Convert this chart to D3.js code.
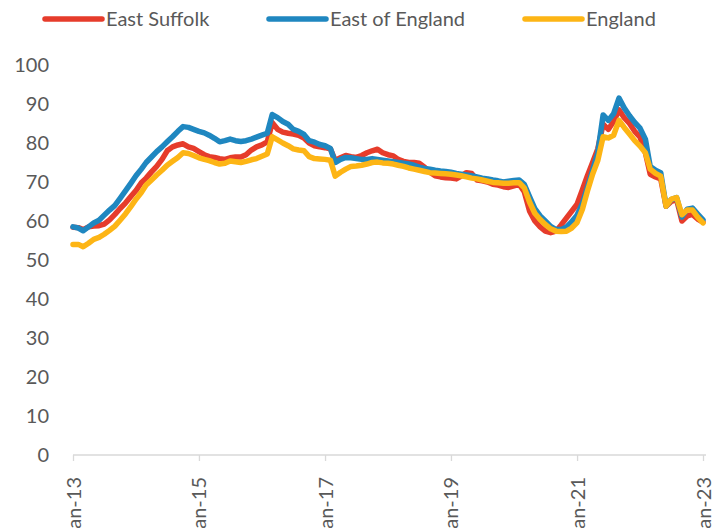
<!DOCTYPE html>
<html>
<head>
<meta charset="utf-8">
<script src="https://cdn.jsdelivr.net/npm/d3@7"></script>
<style>
  body { margin: 0; background: #fff; }
  svg { display: block; }
  text { font-family: Lato, "Open Sans", sans-serif; fill: #595959; }
</style>
</head>
<body>
<svg id="chart" width="724" height="528"></svg>
<script>
// monthly, Jan-13 .. Jan-23
const startMonth = new Date(2013, 0, 1)

const eastSuffolk = [
  58.4, 58.3, 57.8, 58.5, 58.7, 58.8, 59.2, 60.3, 61.7, 63.2, 64.6, 66.2,
  67.8, 69.8, 71.0, 72.6, 74.0, 75.8, 78.0, 79.0, 79.5, 79.8, 79.0, 78.6,
  77.8, 77.0, 76.5, 76.3, 76.0, 75.8, 76.2, 76.4, 76.4, 77.0, 78.2, 79.0,
  79.5, 80.3, 85.2, 83.5, 82.8, 82.5, 82.3, 82.0, 81.3, 80.0, 79.3, 79.0,
  78.8, 78.5, 75.5, 76.2, 76.8, 76.5, 76.3, 76.8, 77.5, 78.0, 78.4, 77.5,
  77.0, 76.7, 75.8, 75.3, 75.0, 75.0, 74.8, 73.8, 72.5, 71.6, 71.3, 71.1,
  71.0, 70.8, 71.5, 72.4, 72.2, 70.5, 70.3, 70.0, 69.4, 69.2, 68.8, 68.6,
  69.0, 69.4, 67.5, 62.5, 60.0, 58.5, 57.4, 57.0, 57.4, 59.0, 60.8, 62.5,
  64.3, 68.0, 71.5, 75.0, 78.5, 84.8, 83.5, 85.5, 88.5, 86.5, 85.0, 83.0,
  81.5, 77.5, 72.0, 71.3, 70.8, 63.8, 65.0, 65.5, 60.0, 61.3, 61.7, 60.5,
  59.7
]

const eastOfEngland = [
  58.5, 58.2, 57.5, 58.5, 59.5, 60.2, 61.5, 62.8, 64.0, 65.8, 67.7, 69.6,
  71.6, 73.3, 75.0, 76.4, 77.8, 79.0, 80.3, 81.6, 83.0, 84.2, 84.0, 83.5,
  83.0, 82.6, 82.0, 81.2, 80.3, 80.6, 81.0, 80.6, 80.4, 80.6, 81.0, 81.5,
  82.0, 82.5, 87.3, 86.5, 85.5, 84.8, 83.5, 83.0, 82.2, 80.6, 80.2, 79.6,
  79.3, 78.6, 75.0, 75.8, 76.3, 76.2, 76.0, 75.8, 75.8, 76.0, 75.8, 75.6,
  75.4, 75.2, 75.0, 74.8, 74.6, 74.3, 73.8, 73.5, 73.3, 73.0, 72.8, 72.7,
  72.5, 72.2, 72.0, 71.8, 71.6, 71.3, 71.0, 70.8, 70.5, 70.3, 70.0, 70.2,
  70.4, 70.5, 69.4, 66.2, 63.2, 61.3, 60.0, 58.6, 57.8, 57.8, 58.5, 59.8,
  61.5, 64.5, 68.5, 73.0, 77.5, 87.2, 85.8, 87.5, 91.5, 89.0, 87.0, 85.3,
  83.8, 81.0, 74.0, 73.0, 72.4, 63.8, 65.5, 66.0, 61.0, 63.0, 63.3, 61.8,
  60.3
]

const england = [
  54.0, 54.0, 53.4, 54.3, 55.3, 55.8, 56.6, 57.6, 58.7, 60.2, 61.8, 63.6,
  65.6, 67.3, 69.2, 70.5, 71.8, 73.0, 74.3, 75.3, 76.3, 77.5, 77.3, 76.8,
  76.2, 75.8, 75.5, 75.0, 74.6, 74.8, 75.4, 75.2, 75.0, 75.3, 75.7, 76.0,
  76.6, 77.2, 81.6, 80.8, 80.0, 79.3, 78.5, 78.2, 78.0, 76.5, 76.0, 75.9,
  75.8, 75.6, 71.5, 72.5, 73.3, 74.0, 74.1, 74.3, 74.6, 75.0, 75.1, 74.9,
  74.8, 74.6, 74.3, 74.0, 73.6, 73.3, 73.0, 72.7, 72.4, 72.3, 72.2, 72.1,
  72.0, 71.8, 71.6, 71.3, 71.0, 70.8, 70.5, 70.2, 69.9, 69.8, 69.7, 69.7,
  69.8, 69.8, 68.5, 64.8, 62.0, 60.4, 59.1, 58.0, 57.4, 57.3, 57.4, 58.2,
  59.6, 63.0, 67.5, 72.0, 75.5, 81.6, 81.3, 82.0, 85.8, 84.0, 82.3, 80.6,
  79.2, 77.5, 73.3, 72.2, 71.5, 63.8, 65.6, 66.0, 61.6, 62.8, 62.8, 61.0,
  59.5
]

const seriesNames = ['East Suffolk', 'East of England', 'England']
const seriesColors = ['#E63C2B', '#1F87C0', '#FDB515']
const yTicks = [0, 10, 20, 30, 40, 50, 60, 70, 80, 90, 100]
const xTickYears = [2013, 2015, 2017, 2019, 2021, 2023]

const svg = d3.select('#chart')
const fontSize = 20

const x = d3.scaleTime()
  .domain([startMonth, new Date(2023, 0, 1)])
  .range([73, 703])

const y = d3.scaleLinear()
  .domain([0, 100])
  .range([455, 65])

// y labels, no axis line
svg.append('g')
  .selectAll('text')
  .data(yTicks)
  .join('text')
  .attr('x', 49)
  .attr('y', d => y(d))
  .attr('dy', '0.35em')
  .attr('text-anchor', 'end')
  .style('font-size', fontSize + 'px')
  .text(d => d)

// x axis
const xAxis = d3.axisBottom(x)
  .tickValues(xTickYears.map(yr => new Date(yr, 0, 1)))
  .tickFormat(d3.timeFormat('%b-%y'))
  .tickSize(6)
  .tickSizeOuter(0)

const gx = svg.append('g')
  .attr('transform', `translate(0,${y(0)})`)
  .call(xAxis)

gx.select('.domain')
  .attr('stroke', '#d9d9d9')
  .attr('stroke-width', 1.3)
  .attr('d', `M${x.range()[0]},0H${x.range()[1] + 3}`)
gx.selectAll('.tick line')
  .attr('stroke', '#d9d9d9')
  .attr('stroke-width', 1.3)
gx.selectAll('.tick text')
  .attr('transform', 'rotate(-90)')
  .attr('x', -22)
  .attr('y', 0)
  .attr('dy', '0.35em')
  .attr('text-anchor', 'end')
  .style('font-size', fontSize + 'px')
  .style('font-family', 'Lato, "Open Sans", sans-serif')
  .attr('fill', '#595959')

// lines
const allSeries = [eastSuffolk, eastOfEngland, england]
const line = d3.line()
  .x((d, i) => x(d3.timeMonth.offset(startMonth, i)))
  .y(d => y(d))

svg.append('g')
  .selectAll('path')
  .data(allSeries)
  .join('path')
  .attr('d', line)
  .attr('fill', 'none')
  .attr('stroke', (d, i) => seriesColors[i])
  .attr('stroke-width', 5.5)
  .attr('stroke-linejoin', 'round')
  .attr('stroke-linecap', 'round')

// legend
const legendX = [45, 269, 525]
const legend = svg.append('g')
  .selectAll('g')
  .data(seriesNames)
  .join('g')
  .attr('transform', (d, i) => `translate(${legendX[i]},19)`)

legend.append('line')
  .attr('x1', 0)
  .attr('x2', 57)
  .attr('stroke', (d, i) => seriesColors[i])
  .attr('stroke-width', 5.5)
  .attr('stroke-linecap', 'round')

legend.append('text')
  .attr('x', 61)
  .attr('dy', '0.35em')
  .style('font-size', fontSize + 'px')
  .text(d => d)
</script>
</body>
</html>
